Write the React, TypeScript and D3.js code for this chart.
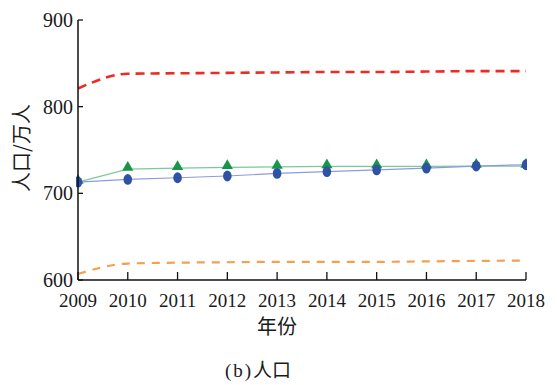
import React from "react";
import * as d3 from "d3";

const years = [2009, 2010, 2011, 2012, 2013, 2014, 2015, 2016, 2017, 2018];
const redUpper = [821, 838, 838.5, 839, 839.5, 840, 840, 840.5, 841, 841];
const orangeLower = [607, 619, 620, 620.5, 621, 621, 621, 621.5, 622, 622.5];
const greenSeries = [713, 728, 729, 730, 730.5, 731, 731, 731, 731.5, 731.5];
const blueSeries = [713, 716, 718, 720, 723, 725, 727, 729, 731.5, 733];
const yTicks = [600, 700, 800, 900];

const W = 557;
const H = 385;
const serif = '"Liberation Serif", "DejaVu Serif", serif';
const cjk = '"Noto Sans CJK SC", "Noto Sans", sans-serif';

export default function App() {
  const x = d3.scaleLinear().domain([2009, 2018]).range([78, 526]);
  const y = d3.scaleLinear().domain([600, 900]).range([280, 20]);

  const curved = d3
    .line<number>()
    .x((_, i) => x(years[i]))
    .y((d) => y(d))
    .curve(d3.curveMonotoneX);
  const straight = d3
    .line<number>()
    .x((_, i) => x(years[i]))
    .y((d) => y(d));

  const tri = d3.symbol().type(d3.symbolTriangle).size(55)();

  return (
    <svg
      width={W}
      height={H}
      style={{ position: "absolute", left: 0, top: 0, background: "#fff" }}
    >
      <defs>
        <clipPath id="plot">
          <rect x={76} y={10} width={451} height={272} />
        </clipPath>
      </defs>
      <g clipPath="url(#plot)">
        <path
          d={curved(redUpper) || ""}
          fill="none"
          stroke="#ee2a24"
          strokeWidth={2.6}
          strokeDasharray="9 6"
        />
        <path
          d={curved(orangeLower) || ""}
          fill="none"
          stroke="#f4a050"
          strokeWidth={2.2}
          strokeDasharray="8 7"
        />
        <path
          d={straight(greenSeries) || ""}
          fill="none"
          stroke="#7cc99a"
          strokeWidth={1.2}
        />
        <path
          d={straight(blueSeries) || ""}
          fill="none"
          stroke="#8f9bd6"
          strokeWidth={1.2}
        />
        {greenSeries.map((v, i) => (
          <path
            key={"g" + i}
            d={tri || ""}
            transform={`translate(${x(years[i])},${y(v) - 1.5})`}
            fill="#17964a"
          />
        ))}
        {blueSeries.map((v, i) => (
          <ellipse
            key={"b" + i}
            cx={x(years[i])}
            cy={y(v)}
            rx={4.3}
            ry={5.4}
            fill="#2f52a5"
          />
        ))}
      </g>

      {/* axes */}
      <line x1={x(2009)} x2={x(2009)} y1={y(900)} y2={y(600)} stroke="#111" strokeWidth={1.5} />
      <line x1={x(2009)} x2={x(2018)} y1={y(600)} y2={y(600)} stroke="#111" strokeWidth={1.5} />
      {yTicks.map((t) => (
        <g key={"yt" + t}>
          <line x1={x(2009)} x2={x(2009) + 5} y1={y(t)} y2={y(t)} stroke="#111" strokeWidth={1.3} />
          <text
            x={x(2009) - 5}
            y={y(t)}
            dy="0.35em"
            textAnchor="end"
            fontFamily={serif}
            fontSize={20}
            fill="#1a1a1a"
          >
            {t}
          </text>
        </g>
      ))}
      {years.map((yr) => (
        <g key={"xt" + yr}>
          <line x1={x(yr)} x2={x(yr)} y1={y(600)} y2={y(600) - 8} stroke="#111" strokeWidth={1.3} />
          <text
            x={x(yr)}
            y={307}
            textAnchor="middle"
            fontFamily={serif}
            fontSize={19}
            fill="#1a1a1a"
          >
            {yr}
          </text>
        </g>
      ))}
      <text
        transform={`translate(29,148) rotate(-90)`}
        textAnchor="middle"
        fontFamily={cjk}
        fontSize={20}
        fill="#1a1a1a"
      >
        人口/万人
      </text>
      <text x={277} y={334} textAnchor="middle" fontFamily={cjk} fontSize={20} fill="#1a1a1a">
        年份
      </text>
      <text x={258} y={377} textAnchor="middle" fontFamily={cjk} fontSize={19} fill="#1a1a1a">
        <tspan fontFamily={serif} letterSpacing={2}>(b)</tspan>人口
      </text>
    </svg>
  );
}
